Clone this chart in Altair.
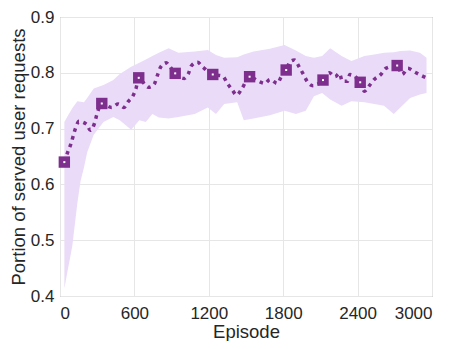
import altair as alt
import pandas as pd

# Mean curve (episode, portion)
line_ep = [35, 61, 87, 126, 153, 213, 245, 279, 298, 337, 416, 469, 516, 548, 587, 613,
           635, 666, 711, 758, 785, 811, 856, 890, 929, 1003, 1034, 1061, 1108, 1153,
           1232, 1311, 1350, 1390, 1424, 1468, 1529, 1600, 1653, 1693, 1753, 1784, 1824,
           1855, 1890, 1930, 1961, 1995, 2040, 2121, 2171, 2218, 2253, 2277, 2319, 2337,
           2421, 2455, 2495, 2534, 2587, 2627, 2719, 2758, 2806, 2856, 2916, 2956]
line_val = [0.640, 0.657, 0.672, 0.701, 0.713, 0.708, 0.697, 0.710, 0.726, 0.745, 0.738,
            0.744, 0.738, 0.748, 0.758, 0.772, 0.791, 0.784, 0.774, 0.779, 0.795, 0.810,
            0.818, 0.810, 0.799, 0.790, 0.798, 0.813, 0.819, 0.810, 0.797, 0.794, 0.781,
            0.769, 0.760, 0.772, 0.793, 0.785, 0.781, 0.788, 0.781, 0.793, 0.805, 0.820,
            0.823, 0.810, 0.798, 0.784, 0.777, 0.787, 0.800, 0.793, 0.799, 0.785, 0.785,
            0.797, 0.783, 0.767, 0.777, 0.788, 0.797, 0.808, 0.813, 0.797, 0.808, 0.802,
            0.795, 0.791]

# Square markers
marker_ep = [35, 337, 635, 929, 1232, 1529, 1824, 2121, 2421, 2719]
marker_val = [0.640, 0.745, 0.791, 0.799, 0.797, 0.793, 0.805, 0.787, 0.783, 0.813]

# Shaded band (lower / upper)
band_ep = [35, 61, 87, 100, 140, 166, 193, 219, 272, 351, 430, 482, 574, 640, 692, 745,
           797, 876, 955, 1087, 1192, 1258, 1324, 1429, 1482, 1561, 1693, 1811, 1903,
           1982, 2048, 2114, 2179, 2271, 2350, 2455, 2534, 2613, 2692, 2745, 2824, 2903,
           2956]
band_hi = [0.712, 0.722, 0.732, 0.737, 0.749, 0.748, 0.747, 0.755, 0.772, 0.778, 0.787,
           0.798, 0.811, 0.818, 0.824, 0.830, 0.836, 0.844, 0.836, 0.838, 0.841, 0.832,
           0.827, 0.828, 0.833, 0.838, 0.843, 0.850, 0.840, 0.830, 0.827, 0.830, 0.844,
           0.830, 0.821, 0.830, 0.833, 0.836, 0.837, 0.839, 0.840, 0.836, 0.827]
band_lo = [0.413, 0.445, 0.475, 0.491, 0.566, 0.606, 0.630, 0.657, 0.689, 0.712, 0.721,
           0.715, 0.698, 0.715, 0.712, 0.726, 0.720, 0.718, 0.721, 0.726, 0.738, 0.726,
           0.744, 0.747, 0.715, 0.718, 0.724, 0.732, 0.726, 0.732, 0.758, 0.764, 0.752,
           0.741, 0.749, 0.747, 0.744, 0.741, 0.726, 0.738, 0.755, 0.761, 0.764]

x_ticks = [0, 600, 1200, 1800, 2400, 3000]
y_ticks = [0.4, 0.5, 0.6, 0.7, 0.8, 0.9]

PURPLE = "#7E2F8E"
BAND = "#EADCF8"
FONT = "Liberation Sans"

line_df = pd.DataFrame({"ep": line_ep, "val": line_val})
mk_df = pd.DataFrame({"ep": marker_ep, "val": marker_val})
band_df = pd.DataFrame({"ep": band_ep, "lo": band_lo, "hi": band_hi})

xs = alt.Scale(domain=[0, 3000], nice=False, zero=False)
ys = alt.Scale(domain=[0.4, 0.9], nice=False, zero=False)

x_axis = alt.Axis(values=x_ticks, format="d", title="Episode", grid=True,
                  gridColor="#e6e6e6", ticks=False, domain=False, labelPadding=9,
                  labelFontSize=17, titleFontSize=18.5, titlePadding=1,
                  labelFont=FONT, titleFont=FONT, labelColor="#262626",
                  titleColor="#262626", titleFontWeight="normal")
y_axis = alt.Axis(values=y_ticks, format=".1f", title="Portion of served user requests",
                  grid=True, gridColor="#e6e6e6", ticks=False, domain=False,
                  labelPadding=6, labelFontSize=17, titleFontSize=18.5, titlePadding=2,
                  labelFont=FONT, titleFont=FONT, labelColor="#262626",
                  titleColor="#262626", titleFontWeight="normal")

band = alt.Chart(band_df).mark_area(color=BAND, opacity=1).encode(
    x=alt.X("ep:Q", scale=xs, axis=x_axis),
    y=alt.Y("lo:Q", scale=ys, axis=y_axis),
    y2="hi:Q",
)

line = alt.Chart(line_df).mark_line(
    color=PURPLE, strokeWidth=3.5, strokeDash=[3.5, 4.5], interpolate="monotone"
).encode(x=alt.X("ep:Q", scale=xs), y=alt.Y("val:Q", scale=ys))

markers = alt.Chart(mk_df).mark_point(
    shape="square", filled=True, color=PURPLE, size=130, opacity=1
).encode(x=alt.X("ep:Q", scale=xs), y=alt.Y("val:Q", scale=ys))

centers = alt.Chart(mk_df).mark_point(
    shape="square", filled=True, color="white", size=4, opacity=1
).encode(x=alt.X("ep:Q", scale=xs), y=alt.Y("val:Q", scale=ys))

chart = alt.layer(band, line, markers, centers).properties(
    width=372, height=279,
    autosize=alt.AutoSizeParams(type="none"),
    padding={"left": 52, "top": 9, "right": 12, "bottom": 45},
).configure_view(stroke="#8a8a8a", strokeWidth=1)

chart.save("out.html", embed_options={"renderer": "svg", "actions": False})
